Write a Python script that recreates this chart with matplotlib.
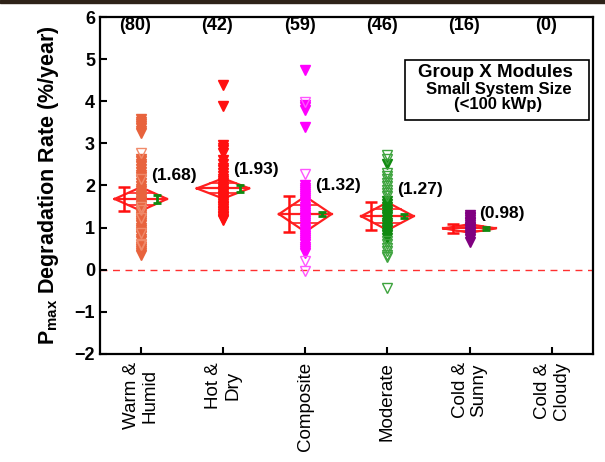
import numpy as np
import matplotlib
matplotlib.use('Agg')
import matplotlib.pyplot as plt
from matplotlib.patches import Rectangle

plt.rcParams['font.family'] = ['Liberation Sans', 'DejaVu Sans']
plt.rcParams['mathtext.fontset'] = 'custom'
plt.rcParams['mathtext.rm'] = 'Liberation Sans:bold'
plt.rcParams['mathtext.bf'] = 'Liberation Sans:bold'

# climate zones
zones = ["Warm &\nHumid", "Hot &\nDry", "Composite", "Moderate", "Cold &\nSunny", "Cold &\nCloudy"]
counts = [80, 42, 59, 46, 16, 0]

# per-zone degradation rates (%/year), filled and open markers
wh_filled = [3.57, 3.52, 3.47, 3.42, 3.36, 3.3, 3.24, 2.64, 2.58, 2.52, 2.46, 2.4, 2.33, 2.26,
             2.2, 2.12, 2.05, 1.98, 1.92, 1.86, 1.8, 1.76, 1.72, 1.68, 1.64, 1.6, 1.56, 1.52,
             1.48, 1.44, 1.4, 1.35, 1.3, 1.25, 1.2, 1.15, 1.1, 1.05, 1.0, 0.95, 0.9, 0.85,
             0.8, 0.74, 0.68, 0.55, 0.5, 0.45, 0.4, 0.36]
wh_open = [2.78, 2.15, 1.5, 1.42, 1.22, 0.88, 0.62, 0.58]
hd_filled = [4.38, 3.9, 2.95, 2.9, 2.85, 2.78, 2.6, 2.52, 2.42, 2.36, 2.3, 2.22, 2.15, 2.1,
             2.05, 2.0, 1.96, 1.92, 1.88, 1.84, 1.8, 1.76, 1.72, 1.68, 1.64, 1.6, 1.56, 1.52,
             1.48, 1.44, 1.4, 1.36, 1.32, 1.28, 1.24, 1.2, 1.17]
hd_open = []
co_filled = [4.75, 3.92, 3.86, 3.8, 3.38, 2.0, 1.95, 1.9, 1.85, 1.8, 1.75, 1.7, 1.65, 1.6,
             1.55, 1.5, 1.45, 1.4, 1.35, 1.3, 1.25, 1.2, 1.15, 1.1, 1.05, 1.0, 0.95, 0.9,
             0.85, 0.8, 0.75, 0.7, 0.65, 0.6, 0.55, 0.5, 0.45, 0.4]
co_open = [3.98, 2.27, 0.2, -0.02]
mo_filled = [2.5, 1.62, 1.55, 1.48, 1.42, 1.36, 1.3, 1.24, 1.18, 1.12, 1.06, 1.0, 0.94,
             0.88, 0.82, 0.76]
mo_open = [2.72, 2.64, 2.3, 2.22, 2.15, 2.06, 1.98, 1.9, 1.82, 1.75, 0.68, 0.6, 0.52,
           0.44, 0.36, 0.3, -0.43]
cs_filled = [1.3, 1.26, 1.22, 1.18, 1.14, 1.1, 1.06, 1.02, 0.98, 0.94, 0.9, 0.86, 0.82,
             0.78, 0.72, 0.66]
cs_open = []

# summary stats per zone (no data for Cold & Cloudy)
means = [1.68, 1.93, 1.32, 1.27, 0.98]
sds = [0.28, 0.24, 0.42, 0.33, 0.1]
cis = [0.09, 0.09, 0.05, 0.05, 0.03]
show_sd = [True, False, True, True, True]

filled = [wh_filled, hd_filled, co_filled, mo_filled, cs_filled]
opened = [wh_open, hd_open, co_open, mo_open, cs_open]
colors = ['#E8633D', '#FF1010', '#FF00FF', '#108A10', '#800080']
open_colors = ['#F08A6A', '#FF5050', '#FF55FF', '#3DA33D', '#9040A0']
label_dy = [0.55, 0.44, 0.68, 0.63, 0.35]

fig, ax = plt.subplots(figsize=(6.05, 4.62), dpi=100)
fig.subplots_adjust(left=0.165, right=0.98, top=0.963, bottom=0.234)

x = np.arange(1, len(zones) + 1)

ax.axhline(0, color='#FF3030', linestyle=(0, (5, 4)), linewidth=1.0, zorder=1)

for i in range(len(means)):
    xi = x[i]
    m = means[i]
    sd = sds[i]
    hw = 0.32
    # means diamond
    ax.plot([xi - hw, xi, xi + hw, xi, xi - hw], [m, m + sd, m, m - sd, m],
            color='#FF2020', linewidth=1.6, zorder=2)
    ax.plot([xi - hw, xi + hw], [m, m], color='#FF2020', linewidth=1.6, zorder=2)
    ax.plot([xi - hw / 2, xi + hw / 2], [m + sd * 0.5, m + sd * 0.5], color='#FF2020', linewidth=1.2, zorder=2)
    ax.plot([xi - hw / 2, xi + hw / 2], [m - sd * 0.5, m - sd * 0.5], color='#FF2020', linewidth=1.2, zorder=2)
    # points
    ax.plot(np.full(len(filled[i]), xi), filled[i], 'v', color=colors[i],
            ms=7.5 if i < 4 else 6.5, mec=colors[i], zorder=3)
    if opened[i]:
        ax.plot(np.full(len(opened[i]), xi), opened[i], 'v', mfc='none',
                mec=open_colors[i], ms=7.5, mew=1.0, zorder=3)
    # sd bar (left) and CI bar (right)
    if show_sd[i]:
        ax.errorbar(xi - 0.2, m, yerr=sd, color='#FF1010', capsize=4, elinewidth=1.8,
                    capthick=1.8, zorder=4)
    ax.errorbar(xi + 0.2, m, yerr=cis[i], color='#108A10', capsize=3, elinewidth=2.0,
                capthick=2.0, zorder=4)
    ax.text(xi + 0.12, m + label_dy[i], "(%.2f)" % m, fontsize=12.5, fontweight='bold',
            ha='left', va='center', zorder=5)

for i, c in enumerate(counts):
    ax.text(x[i] - 0.07, 5.8, "(%d)" % c, fontsize=13, fontweight='bold', ha='center',
            va='center')

ax.add_patch(Rectangle((4.21, 3.56), 2.24, 1.43, fill=False, edgecolor='black', lw=1.2, zorder=5))
ax.text(5.32, 4.68, "Group X Modules", fontsize=13.5, fontweight='bold', ha='center', va='center')
ax.text(5.35, 4.28, "Small System Size", fontsize=12, fontweight='bold', ha='center', va='center')
ax.text(5.35, 3.92, "(<100 kWp)", fontsize=12, fontweight='bold', ha='center', va='center')

ax.set_xlim(0.5, 6.5)
ax.set_ylim(-2, 6)
ax.set_xticks(x)
ax.set_xticklabels(zones, rotation=90, fontsize=13.5, linespacing=1.15)
ax.set_yticks(range(-2, 7))
ax.tick_params(axis='y', direction='in', labelsize=13, width=1.5, length=5)
ax.tick_params(axis='x', direction='in', width=1.5, length=5, pad=6)
for lab in ax.get_yticklabels():
    lab.set_fontweight('bold')
for sp in ax.spines.values():
    sp.set_linewidth(1.6)

ax.set_ylabel(r'P$_{\mathbf{max}}$ Degradation Rate (%/year)', fontsize=15.5, fontweight='bold',
              labelpad=10)

fig.add_artist(Rectangle((0, 0.994), 1, 0.006, transform=fig.transFigure, color='#2e2218'))

plt.savefig('out.png', dpi=100)
